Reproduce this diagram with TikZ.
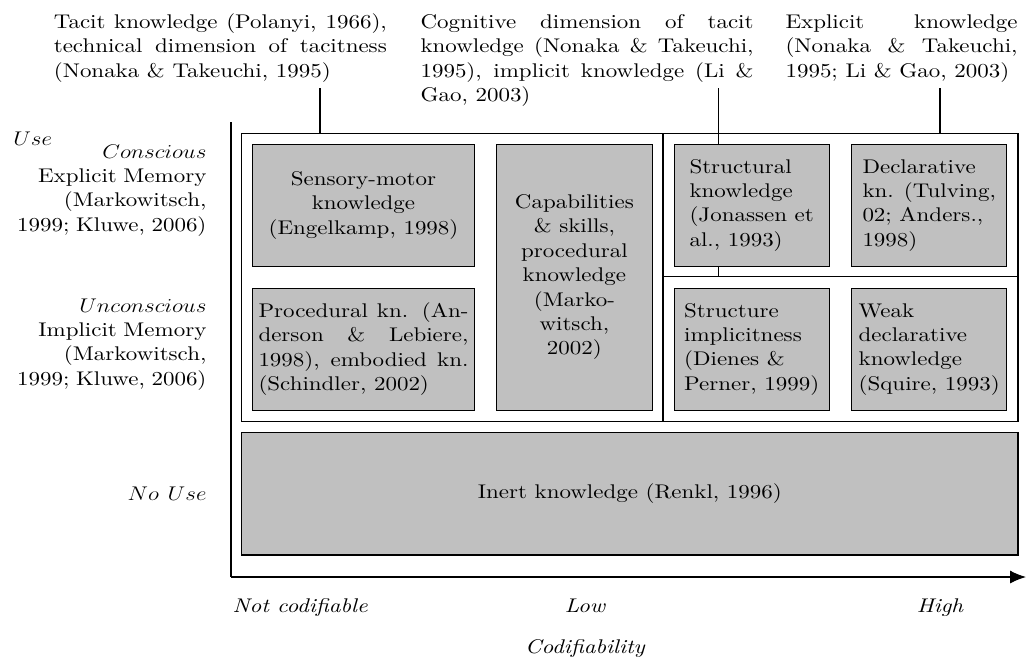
\RequirePackage{fix-cm}
\documentclass[tikz,border=0pt]{standalone}
\usepackage{fontspec}
\setmainfont{lmroman10-regular.otf}[FakeStretch=1.16, ItalicFont=lmroman10-italic.otf]
\usepackage{graphicx}
\usetikzlibrary{arrows.meta}
\definecolor{kgray}{RGB}{192,192,192}
% math-italic labels, widened like the text face
\newcommand{\mitext}[1]{\scalebox{1.16}[1]{$#1$}}
\newcommand{\bigfont}{\fontsize{19.8}{24.4}\selectfont}

\begin{document}
\begin{tikzpicture}[x=1pt, y=-1pt,
  font=\bigfont,
  line width=1.1pt,
  frame/.style={draw, inner sep=0pt},
  kbox/.style={draw, fill=kgray, inner sep=4pt},
  toplabel/.style={anchor=base west, inner sep=0pt, align=justify, font=\bigfont},
  sidelabel/.style={anchor=base east, inner sep=0pt, text width=210pt, align=right, font=\bigfont},
  axislabel/.style={anchor=base, inner sep=0pt, font=\bigfont\itshape},
]
\useasboundingbox (0,0) rectangle (1026,662);

% regions of the chart
\node[frame, minimum width=421.3pt, minimum height=288.4pt] (useL) at (452.35,277.5) {};
\node[frame, minimum width=355pt, minimum height=143.4pt] (consR) at (840.5,205) {};
\node[frame, minimum width=355pt, minimum height=145pt] (unconsR) at (840.5,349.2) {};

% leader lines from the headings
\coordinate (c1) at (320,88);
\coordinate (c2) at (718.3,88);
\coordinate (c3) at (940,88);
\draw (c1) -- (c1 |- useL.north);
\draw (c2) -- (c2 |- unconsR.north);
\draw (c3) -- (c3 |- consR.north);

% knowledge types
\node[kbox, minimum width=221.6pt, minimum height=121.7pt, align=center] (sensory) at (363.5,205.2)
  {Sensory-motor\\knowledge\\(Engelkamp, 1998)};
\node[kbox, minimum width=221.6pt, minimum height=121.7pt, text width=210pt, align=justify] (procedural) at (363.5,349.2)
  {Procedural kn. (Anderson \& Lebiere, 1998), embodied kn. (Schindler, 2002)};
\node[kbox, minimum width=155.3pt, minimum height=265.7pt, align=center] (skills) at (574.4,277.2)
  {Capabilities\\\& skills,\\procedural\\knowledge\\(Marko-\\witsch,\\2002)};
\node[kbox, minimum width=155.3pt, minimum height=121.7pt, align=left] (structural) at (751.7,205.2)
  {Structural\\knowledge\\(Jonassen et\\al., 1993)};
\node[kbox, minimum width=155.3pt, minimum height=121.7pt, align=left] (declarative) at (929.2,205.2)
  {Declarative\\kn. (Tulving,\\02; Anders.,\\1998)};
\node[kbox, minimum width=155.3pt, minimum height=121.7pt, align=left] (implicitness) at (751.7,349.2)
  {Structure\\implicitness\\(Dienes \&\\Perner, 1999)};
\node[kbox, minimum width=155.3pt, minimum height=121.7pt, align=left] (weakdecl) at (929.2,349.2)
  {Weak\\declarative\\knowledge\\(Squire, 1993)};
\node[kbox, minimum width=776.3pt, minimum height=122.3pt] (inert) at (629.85,493.85)
  {Inert knowledge (Renkl, 1996)};

% axes
\coordinate (origin) at (231,577);
\coordinate (ytop) at (231,122);
\coordinate (xend) at (1026,577);
\draw (ytop) -- (origin);
\draw[-{Latex[length=16pt,width=13pt]}] (origin) -- (xend);

% headings
\node[toplabel, text width=333pt] (tacit) at (53.3,28.5)
  {Tacit knowledge (Polanyi, 1966), technical dimension of tacitness (Nonaka \& Takeuchi, 1995)};
\node[toplabel, text width=333pt] (cognitive) at (420,28.5)
  {Cognitive dimension of tacit knowledge (Nonaka \& Takeuchi, 1995), implicit knowledge (Li \& Gao, 2003)};
\node[toplabel, text width=232pt] (explicit) at (785,28.5)
  {Explicit knowledge (Nonaka \& Takeuchi, 1995; Li \& Gao, 2003)};

% usage axis
\node[anchor=base west, inner sep=0pt] (use) at (12.7,145) {\mitext{Use}};
\node[sidelabel] (conscious) at (207,158)
  {\mitext{Conscious}\\Explicit Memory\\(Markowitsch,\\1999; Kluwe, 2006)};
\node[sidelabel] (unconscious) at (207,312)
  {\mitext{Unconscious}\\Implicit Memory\\(Markowitsch,\\1999; Kluwe, 2006)};
\node[anchor=base east, inner sep=0pt] (nouse) at (207,500) {\mitext{No\ Use}};

% codifiability axis
\node[axislabel, anchor=base west] (notcod) at (232,612) {Not codifiable};
\node[axislabel] (low) at (585,612) {Low};
\node[axislabel] (high) at (940,612) {High};
\node[axislabel] (codif) at (585,653) {Codifiability};
\end{tikzpicture}
\end{document}
